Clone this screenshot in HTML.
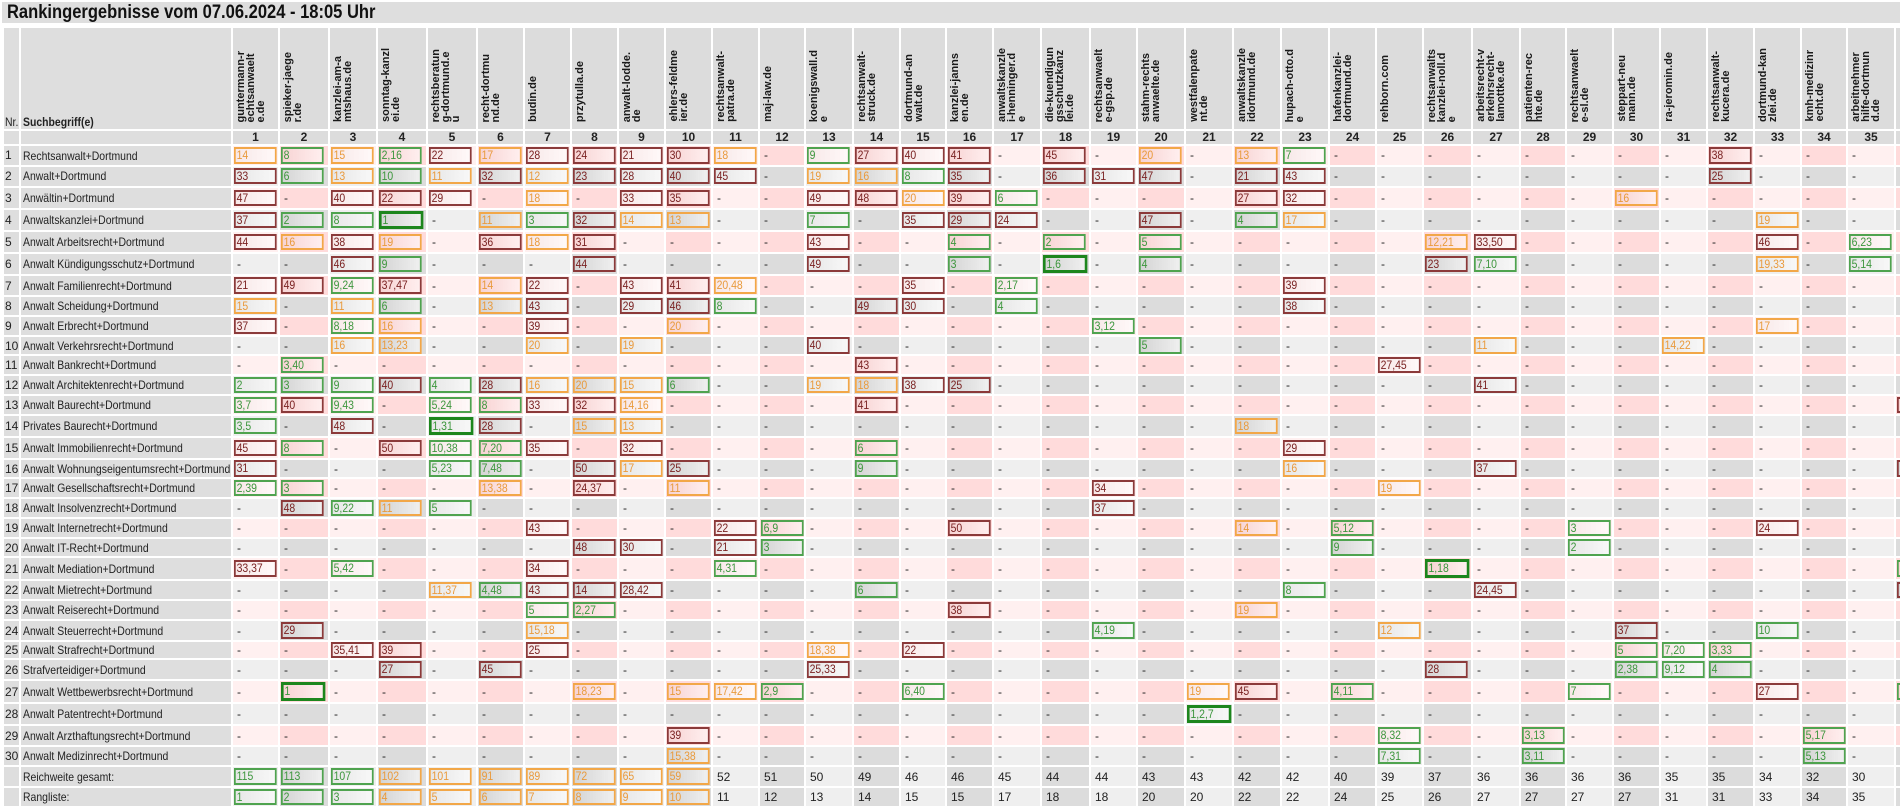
<!DOCTYPE html>
<html><head><meta charset="utf-8">
<style>
html,body{margin:0;padding:0;background:#fff;width:1900px;height:812px;overflow:hidden;font-family:"Liberation Sans",Arial,sans-serif;}
#t{position:absolute;left:2px;top:2px;width:1898px;height:21px;background:#dedede;}
#t span{position:absolute;left:5px;top:0;font-weight:bold;font-size:19px;line-height:21px;color:#111;transform:scaleX(.87);transform-origin:0 0;white-space:nowrap}
#w{position:absolute;left:2px;top:26px;width:1898px;height:786px;overflow:hidden}
table{table-layout:fixed;width:1941px;border-spacing:2px;border-collapse:separate}
td{padding:0;position:relative;font-size:12px;line-height:14px;color:#222;white-space:nowrap;text-indent:4px;vertical-align:middle}
tr.p td{background:#fff0f0}
tr.p td:nth-child(even){background:#ffdbdb}
tr.g td{background:#efefef}
tr.g td:nth-child(even){background:#dcdcdc}
tr td:nth-child(1),tr td:nth-child(2){background:#dedede!important}
td:nth-child(1){text-indent:1px}
td:nth-child(2){text-indent:2px}
tr.h td{background:#dcdcdc;vertical-align:bottom}
tr.n td{background:#dcdcdc;text-align:center;font-weight:bold;text-indent:0;line-height:13px}
tr.n td:nth-child(1),tr.n td:nth-child(2){text-indent:0}
i{font-style:normal;display:inline-block;transform:scaleX(.87);transform-origin:0 50%;text-indent:0;vertical-align:middle}
i.bd{font-weight:bold}
b{position:absolute;left:1px;top:0;bottom:0;margin:auto 0;height:16.5px;width:49.4px;box-sizing:border-box;border:2px solid;font-weight:normal;text-indent:0;padding-left:1px;line-height:12.5px;font-size:12px;transform:scaleX(.87);transform-origin:0 0;background:linear-gradient(to right,rgba(0,0,0,.03),rgba(255,255,255,.55))}
b.r{border-color:#8b3a3a;color:#7a2222}
b.o{border-color:#f2a748;color:#e99a3c}
b.g{border-color:#4fa34f;color:#3d963d}
b.G{border:3px solid #1d861d;color:#3a953a;height:18.5px;width:50.6px;line-height:12.5px}
u{position:absolute;left:3px;bottom:7px;writing-mode:vertical-rl;transform:rotate(180deg);font-weight:bold;font-size:11px;line-height:10px;text-decoration:none;white-space:nowrap;text-indent:0;color:#1a1a1a}
</style></head><body>
<div id="t"><span>Rankingergebnisse vom 07.06.2024 - 18:05 Uhr</span></div>
<div id="w">
<table>
<colgroup>
<col style="width:15px"><col style="width:210px">
<col style="width:45px"><col style="width:48px"><col style="width:46px"><col style="width:48px"><col style="width:48px">
<col style="width:45px"><col style="width:45px"><col style="width:45px"><col style="width:45px"><col style="width:45px">
<col style="width:45px"><col style="width:44px"><col style="width:46px"><col style="width:45px"><col style="width:44px">
<col style="width:45px"><col style="width:46px"><col style="width:47px"><col style="width:45px"><col style="width:46px">
<col style="width:46px"><col style="width:46px"><col style="width:46px"><col style="width:45px"><col style="width:45px">
<col style="width:47px"><col style="width:46px"><col style="width:44px"><col style="width:45px"><col style="width:45px">
<col style="width:45px"><col style="width:45px"><col style="width:45px"><col style="width:44px"><col style="width:46px">
<col style="width:45px">
</colgroup>
<tr class="h" style="height:101px"><td><i>Nr.</i><td><i class="bd">Suchbegriff(e)</i>
<td><u>guntermann-r<br>echtsanwaelt<br>e.de</u>
<td><u>spieker-jaege<br>r.de</u>
<td><u>kanzlei-am-a<br>mtshaus.de</u>
<td><u>sonntag-kanzl<br>ei.de</u>
<td><u>rechtsberatun<br>g-dortmund.e<br>u</u>
<td><u>recht-dortmu<br>nd.de</u>
<td><u>budin.de</u>
<td><u>przytulla.de</u>
<td><u>anwalt-lodde.<br>de</u>
<td><u>ehlers-feldme<br>ier.de</u>
<td><u>rechtsanwalt-<br>patra.de</u>
<td><u>maj-law.de</u>
<td><u>koenigswall.d<br>e</u>
<td><u>rechtsanwalt-<br>struck.de</u>
<td><u>dortmund-an<br>walt.de</u>
<td><u>kanzlei-janns<br>en.de</u>
<td><u>anwaltskanzle<br>i-henninger.d<br>e</u>
<td><u>die-kuendigun<br>gsschutzkanz<br>lei.de</u>
<td><u>rechtsanwaelt<br>e-gsp.de</u>
<td><u>stahm-rechts<br>anwaelte.de</u>
<td><u>westfalenpate<br>nt.de</u>
<td><u>anwaltskanzle<br>idortmund.de</u>
<td><u>hupach-otto.d<br>e</u>
<td><u>hafenkanzlei-<br>dortmund.de</u>
<td><u>rehborn.com</u>
<td><u>rechtsanwalts<br>kanzlei-noll.d<br>e</u>
<td><u>arbeitsrecht-v<br>erkehrsrecht-<br>lamottke.de</u>
<td><u>patienten-rec<br>hte.de</u>
<td><u>rechtsanwaelt<br>e-sl.de</u>
<td><u>steppart-neu<br>mann.de</u>
<td><u>ra-jeromin.de</u>
<td><u>rechtsanwalt-<br>kucera.de</u>
<td><u>dortmund-kan<br>zlei.de</u>
<td><u>kmh-medizinr<br>echt.de</u>
<td><u>arbeitnehmer<br>hilfe-dortmun<br>d.de</u>
<td>
</tr>
<tr class="n" style="height:13px"><td><td><td>1<td>2<td>3<td>4<td>5<td>6<td>7<td>8<td>9<td>10<td>11<td>12<td>13<td>14<td>15<td>16<td>17<td>18<td>19<td>20<td>21<td>22<td>23<td>24<td>25<td>26<td>27<td>28<td>29<td>30<td>31<td>32<td>33<td>34<td>35<td>36</tr>

<tr class="p" style="height:18.5px"><td>1<td><i>Rechtsanwalt+Dortmund</i>
<td><b class="o">14</b><td><b class="g">8</b><td><b class="o">15</b><td><b class="g">2,16</b><td><b class="r">22</b><td><b class="o">17</b><td><b class="r">28</b><td><b class="r">24</b><td><b class="r">21</b><td><b class="r">30</b><td><b class="o">18</b><td>-<td><b class="g">9</b><td><b class="r">27</b><td><b class="r">40</b><td><b class="r">41</b><td>-<td><b class="r">45</b><td>-<td><b class="o">20</b><td>-<td><b class="o">13</b><td><b class="g">7</b><td>-<td>-<td>-<td>-<td>-<td>-<td>-<td>-<td><b class="r">38</b><td>-<td>-<td>-<td>-</tr>

<tr class="g" style="height:19px"><td>2<td><i>Anwalt+Dortmund</i>
<td><b class="r">33</b><td><b class="g">6</b><td><b class="o">13</b><td><b class="g">10</b><td><b class="o">11</b><td><b class="r">32</b><td><b class="o">12</b><td><b class="r">23</b><td><b class="r">28</b><td><b class="r">40</b><td><b class="r">45</b><td>-<td><b class="o">19</b><td><b class="o">16</b><td><b class="g">8</b><td><b class="r">35</b><td>-<td><b class="r">36</b><td><b class="r">31</b><td><b class="r">47</b><td>-<td><b class="r">21</b><td><b class="r">43</b><td>-<td>-<td>-<td>-<td>-<td>-<td>-<td>-<td><b class="r">25</b><td>-<td>-<td>-<td>-</tr>

<tr class="p" style="height:20.5px"><td>3<td><i>Anwältin+Dortmund</i>
<td><b class="r">47</b><td>-<td><b class="r">40</b><td><b class="r">22</b><td><b class="r">29</b><td>-<td><b class="o">18</b><td>-<td><b class="r">33</b><td><b class="r">35</b><td>-<td>-<td><b class="r">49</b><td><b class="r">48</b><td><b class="o">20</b><td><b class="r">39</b><td><b class="g">6</b><td>-<td>-<td>-<td>-<td><b class="r">27</b><td><b class="r">32</b><td>-<td>-<td>-<td>-<td>-<td>-<td><b class="o">16</b><td>-<td>-<td>-<td>-<td>-<td>-</tr>

<tr class="g" style="height:20px"><td>4<td><i>Anwaltskanzlei+Dortmund</i>
<td><b class="r">37</b><td><b class="g">2</b><td><b class="g">8</b><td><b class="G">1</b><td>-<td><b class="o">11</b><td><b class="g">3</b><td><b class="r">32</b><td><b class="o">14</b><td><b class="o">13</b><td>-<td>-<td><b class="g">7</b><td>-<td><b class="r">35</b><td><b class="r">29</b><td><b class="r">24</b><td>-<td>-<td><b class="r">47</b><td>-<td><b class="g">4</b><td><b class="o">17</b><td>-<td>-<td>-<td>-<td>-<td>-<td>-<td>-<td>-<td><b class="o">19</b><td>-<td>-<td>-</tr>

<tr class="p" style="height:19.5px"><td>5<td><i>Anwalt Arbeitsrecht+Dortmund</i>
<td><b class="r">44</b><td><b class="o">16</b><td><b class="r">38</b><td><b class="o">19</b><td>-<td><b class="r">36</b><td><b class="o">18</b><td><b class="r">31</b><td>-<td>-<td>-<td>-<td><b class="r">43</b><td>-<td>-<td><b class="g">4</b><td>-<td><b class="g">2</b><td>-<td><b class="g">5</b><td>-<td>-<td>-<td>-<td>-<td><b class="o">12,21</b><td><b class="r">33,50</b><td>-<td>-<td>-<td>-<td>-<td><b class="r">46</b><td>-<td><b class="g">6,23</b><td>-</tr>

<tr class="g" style="height:20.5px"><td>6<td><i>Anwalt Kündigungsschutz+Dortmund</i>
<td>-<td>-<td><b class="r">46</b><td><b class="g">9</b><td>-<td>-<td>-<td><b class="r">44</b><td>-<td>-<td>-<td>-<td><b class="r">49</b><td>-<td>-<td><b class="g">3</b><td>-<td><b class="G">1,6</b><td>-<td><b class="g">4</b><td>-<td>-<td>-<td>-<td>-<td><b class="r">23</b><td><b class="g">7,10</b><td>-<td>-<td>-<td>-<td>-<td><b class="o">19,33</b><td>-<td><b class="g">5,14</b><td>-</tr>

<tr class="p" style="height:19px"><td>7<td><i>Anwalt Familienrecht+Dortmund</i>
<td><b class="r">21</b><td><b class="r">49</b><td><b class="g">9,24</b><td><b class="r">37,47</b><td>-<td><b class="o">14</b><td><b class="r">22</b><td>-<td><b class="r">43</b><td><b class="r">41</b><td><b class="o">20,48</b><td>-<td>-<td>-<td><b class="r">35</b><td>-<td><b class="g">2,17</b><td>-<td>-<td>-<td>-<td>-<td><b class="r">39</b><td>-<td>-<td>-<td>-<td>-<td>-<td>-<td>-<td>-<td>-<td>-<td>-<td>-</tr>

<tr class="g" style="height:18px"><td>8<td><i>Anwalt Scheidung+Dortmund</i>
<td><b class="o">15</b><td>-<td><b class="o">11</b><td><b class="g">6</b><td>-<td><b class="o">13</b><td><b class="r">43</b><td>-<td><b class="r">29</b><td><b class="r">46</b><td><b class="g">8</b><td>-<td>-<td><b class="r">49</b><td><b class="r">30</b><td>-<td><b class="g">4</b><td>-<td>-<td>-<td>-<td>-<td><b class="r">38</b><td>-<td>-<td>-<td>-<td>-<td>-<td>-<td>-<td>-<td>-<td>-<td>-<td>-</tr>

<tr class="p" style="height:18px"><td>9<td><i>Anwalt Erbrecht+Dortmund</i>
<td><b class="r">37</b><td>-<td><b class="g">8,18</b><td><b class="o">16</b><td>-<td>-<td><b class="r">39</b><td>-<td>-<td><b class="o">20</b><td>-<td>-<td>-<td>-<td>-<td>-<td>-<td>-<td><b class="g">3,12</b><td>-<td>-<td>-<td>-<td>-<td>-<td>-<td>-<td>-<td>-<td>-<td>-<td>-<td><b class="o">17</b><td>-<td>-<td>-</tr>

<tr class="g" style="height:17px"><td>10<td><i>Anwalt Verkehrsrecht+Dortmund</i>
<td>-<td>-<td><b class="o">16</b><td><b class="o">13,23</b><td>-<td>-<td><b class="o">20</b><td>-<td><b class="o">19</b><td>-<td>-<td>-<td><b class="r">40</b><td>-<td>-<td>-<td>-<td>-<td>-<td><b class="g">5</b><td>-<td>-<td>-<td>-<td>-<td>-<td><b class="o">11</b><td>-<td>-<td>-<td><b class="o">14,22</b><td>-<td>-<td>-<td>-<td>-</tr>

<tr class="p" style="height:18px"><td>11<td><i>Anwalt Bankrecht+Dortmund</i>
<td>-<td><b class="g">3,40</b><td>-<td>-<td>-<td>-<td>-<td>-<td>-<td>-<td>-<td>-<td>-<td><b class="r">43</b><td>-<td>-<td>-<td>-<td>-<td>-<td>-<td>-<td>-<td>-<td><b class="r">27,45</b><td>-<td>-<td>-<td>-<td>-<td>-<td>-<td>-<td>-<td>-<td>-<td>-</tr>

<tr class="g" style="height:18px"><td>12<td><i>Anwalt Architektenrecht+Dortmund</i>
<td><b class="g">2</b><td><b class="g">3</b><td><b class="g">9</b><td><b class="r">40</b><td><b class="g">4</b><td><b class="r">28</b><td><b class="o">16</b><td><b class="o">20</b><td><b class="o">15</b><td><b class="g">6</b><td>-<td>-<td><b class="o">19</b><td><b class="o">18</b><td><b class="r">38</b><td><b class="r">25</b><td>-<td>-<td>-<td>-<td>-<td>-<td>-<td>-<td>-<td>-<td><b class="r">41</b><td>-<td>-<td>-<td>-<td>-<td>-<td>-<td>-<td>-</tr>

<tr class="p" style="height:18px"><td>13<td><i>Anwalt Baurecht+Dortmund</i>
<td><b class="g">3,7</b><td><b class="r">40</b><td><b class="g">9,43</b><td>-<td><b class="g">5,24</b><td><b class="g">8</b><td><b class="r">33</b><td><b class="r">32</b><td><b class="o">14,16</b><td>-<td>-<td>-<td>-<td><b class="r">41</b><td>-<td>-<td>-<td>-<td>-<td>-<td>-<td>-<td>-<td>-<td>-<td>-<td>-<td>-<td>-<td>-<td>-<td>-<td>-<td>-<td>-<td><b class="r"></b></tr>

<tr class="g" style="height:20px"><td>14<td><i>Privates Baurecht+Dortmund</i>
<td><b class="g">3,5</b><td>-<td><b class="r">48</b><td>-<td><b class="G">1,31</b><td><b class="r">28</b><td>-<td><b class="o">15</b><td><b class="o">13</b><td>-<td>-<td>-<td>-<td>-<td>-<td>-<td>-<td>-<td>-<td>-<td>-<td><b class="o">18</b><td>-<td>-<td>-<td>-<td>-<td>-<td>-<td>-<td>-<td>-<td>-<td>-<td>-<td>-</tr>

<tr class="p" style="height:20px"><td>15<td><i>Anwalt Immobilienrecht+Dortmund</i>
<td><b class="r">45</b><td><b class="g">8</b><td>-<td><b class="r">50</b><td><b class="g">10,38</b><td><b class="g">7,20</b><td><b class="r">35</b><td>-<td><b class="r">32</b><td>-<td>-<td>-<td>-<td><b class="g">6</b><td>-<td>-<td>-<td>-<td>-<td>-<td>-<td>-<td><b class="r">29</b><td>-<td>-<td>-<td>-<td>-<td>-<td>-<td>-<td>-<td>-<td>-<td>-<td>-</tr>

<tr class="g" style="height:17px"><td>16<td><i>Anwalt Wohnungseigentumsrecht+Dortmund</i>
<td><b class="r">31</b><td>-<td>-<td>-<td><b class="g">5,23</b><td><b class="g">7,48</b><td>-<td><b class="r">50</b><td><b class="o">17</b><td><b class="r">25</b><td>-<td>-<td>-<td><b class="g">9</b><td>-<td>-<td>-<td>-<td>-<td>-<td>-<td>-<td><b class="o">16</b><td>-<td>-<td>-<td><b class="r">37</b><td>-<td>-<td>-<td>-<td>-<td>-<td>-<td>-<td><b class="r"></b></tr>

<tr class="p" style="height:18px"><td>17<td><i>Anwalt Gesellschaftsrecht+Dortmund</i>
<td><b class="g">2,39</b><td><b class="g">3</b><td>-<td>-<td>-<td><b class="o">13,38</b><td>-<td><b class="r">24,37</b><td>-<td><b class="o">11</b><td>-<td>-<td>-<td>-<td>-<td>-<td>-<td>-<td><b class="r">34</b><td>-<td>-<td>-<td>-<td>-<td><b class="o">19</b><td>-<td>-<td>-<td>-<td>-<td>-<td>-<td>-<td>-<td>-<td>-</tr>

<tr class="g" style="height:18px"><td>18<td><i>Anwalt Insolvenzrecht+Dortmund</i>
<td>-<td><b class="r">48</b><td><b class="g">9,22</b><td><b class="o">11</b><td><b class="g">5</b><td>-<td>-<td>-<td>-<td>-<td>-<td>-<td>-<td>-<td>-<td>-<td>-<td>-<td><b class="r">37</b><td>-<td>-<td>-<td>-<td>-<td>-<td>-<td>-<td>-<td>-<td>-<td>-<td>-<td>-<td>-<td>-<td>-</tr>

<tr class="p" style="height:18px"><td>19<td><i>Anwalt Internetrecht+Dortmund</i>
<td>-<td>-<td>-<td>-<td>-<td>-<td><b class="r">43</b><td>-<td>-<td>-<td><b class="r">22</b><td><b class="g">6,9</b><td>-<td>-<td>-<td><b class="r">50</b><td>-<td>-<td>-<td>-<td>-<td><b class="o">14</b><td>-<td><b class="g">5,12</b><td>-<td>-<td>-<td>-<td><b class="g">3</b><td>-<td>-<td>-<td><b class="r">24</b><td>-<td>-<td>-</tr>

<tr class="g" style="height:17px"><td>20<td><i>Anwalt IT-Recht+Dortmund</i>
<td>-<td>-<td>-<td>-<td>-<td>-<td>-<td><b class="r">48</b><td><b class="r">30</b><td>-<td><b class="r">21</b><td><b class="g">3</b><td>-<td>-<td>-<td>-<td>-<td>-<td>-<td>-<td>-<td>-<td>-<td><b class="g">9</b><td>-<td>-<td>-<td>-<td><b class="g">2</b><td>-<td>-<td>-<td>-<td>-<td>-<td>-</tr>

<tr class="p" style="height:21px"><td>21<td><i>Anwalt Mediation+Dortmund</i>
<td><b class="r">33,37</b><td>-<td><b class="g">5,42</b><td>-<td>-<td>-<td><b class="r">34</b><td>-<td>-<td>-<td><b class="g">4,31</b><td>-<td>-<td>-<td>-<td>-<td>-<td>-<td>-<td>-<td>-<td>-<td>-<td>-<td>-<td><b class="G">1,18</b><td>-<td>-<td>-<td>-<td>-<td>-<td>-<td>-<td>-<td><b class="g"></b></tr>

<tr class="g" style="height:18px"><td>22<td><i>Anwalt Mietrecht+Dortmund</i>
<td>-<td>-<td>-<td>-<td><b class="o">11,37</b><td><b class="g">4,48</b><td><b class="r">43</b><td><b class="r">14</b><td><b class="r">28,42</b><td>-<td>-<td>-<td>-<td><b class="g">6</b><td>-<td>-<td>-<td>-<td>-<td>-<td>-<td>-<td><b class="g">8</b><td>-<td>-<td>-<td><b class="r">24,45</b><td>-<td>-<td>-<td>-<td>-<td>-<td>-<td>-<td><b class="r"></b></tr>

<tr class="p" style="height:18px"><td>23<td><i>Anwalt Reiserecht+Dortmund</i>
<td>-<td>-<td>-<td>-<td>-<td>-<td><b class="g">5</b><td><b class="g">2,27</b><td>-<td>-<td>-<td>-<td>-<td>-<td>-<td><b class="r">38</b><td>-<td>-<td>-<td>-<td>-<td><b class="o">19</b><td>-<td>-<td>-<td>-<td>-<td>-<td>-<td>-<td>-<td>-<td>-<td>-<td>-<td>-</tr>

<tr class="g" style="height:19px"><td>24<td><i>Anwalt Steuerrecht+Dortmund</i>
<td>-<td><b class="r">29</b><td>-<td>-<td>-<td>-<td><b class="o">15,18</b><td>-<td>-<td>-<td>-<td>-<td>-<td>-<td>-<td>-<td>-<td>-<td><b class="g">4,19</b><td>-<td>-<td>-<td>-<td>-<td><b class="o">12</b><td>-<td>-<td>-<td>-<td><b class="r">37</b><td>-<td>-<td><b class="g">10</b><td>-<td>-<td>-</tr>

<tr class="p" style="height:16px"><td>25<td><i>Anwalt Strafrecht+Dortmund</i>
<td>-<td>-<td><b class="r">35,41</b><td><b class="r">39</b><td>-<td>-<td><b class="r">25</b><td>-<td>-<td>-<td>-<td>-<td><b class="o">18,38</b><td>-<td><b class="r">22</b><td>-<td>-<td>-<td>-<td>-<td>-<td>-<td>-<td>-<td>-<td>-<td>-<td>-<td>-<td><b class="g">5</b><td><b class="g">7,20</b><td><b class="g">3,33</b><td>-<td>-<td>-<td>-</tr>

<tr class="g" style="height:19px"><td>26<td><i>Strafverteidiger+Dortmund</i>
<td>-<td>-<td>-<td><b class="r">27</b><td>-<td><b class="r">45</b><td>-<td>-<td>-<td>-<td>-<td>-<td><b class="r">25,33</b><td>-<td>-<td>-<td>-<td>-<td>-<td>-<td>-<td>-<td>-<td>-<td>-<td><b class="r">28</b><td>-<td>-<td>-<td><b class="g">2,38</b><td><b class="g">9,12</b><td><b class="g">4</b><td>-<td>-<td>-<td>-</tr>

<tr class="p" style="height:21px"><td>27<td><i>Anwalt Wettbewerbsrecht+Dortmund</i>
<td>-<td><b class="G">1</b><td>-<td>-<td>-<td>-<td>-<td><b class="o">18,23</b><td>-<td><b class="o">15</b><td><b class="o">17,42</b><td><b class="g">2,9</b><td>-<td>-<td><b class="g">6,40</b><td>-<td>-<td>-<td>-<td>-<td><b class="o">19</b><td><b class="r">45</b><td>-<td><b class="g">4,11</b><td>-<td>-<td>-<td>-<td><b class="g">7</b><td>-<td>-<td>-<td><b class="r">27</b><td>-<td>-<td><b class="g"></b></tr>

<tr class="g" style="height:20px"><td>28<td><i>Anwalt Patentrecht+Dortmund</i>
<td>-<td>-<td>-<td>-<td>-<td>-<td>-<td>-<td>-<td>-<td>-<td>-<td>-<td>-<td>-<td>-<td>-<td>-<td>-<td>-<td><b class="G">1,2,7</b><td>-<td>-<td>-<td>-<td>-<td>-<td>-<td>-<td>-<td>-<td>-<td>-<td>-<td>-<td>-</tr>

<tr class="p" style="height:19px"><td>29<td><i>Anwalt Arzthaftungsrecht+Dortmund</i>
<td>-<td>-<td>-<td>-<td>-<td>-<td>-<td>-<td>-<td><b class="r">39</b><td>-<td>-<td>-<td>-<td>-<td>-<td>-<td>-<td>-<td>-<td>-<td>-<td>-<td>-<td><b class="g">8,32</b><td>-<td>-<td><b class="g">3,13</b><td>-<td>-<td>-<td>-<td>-<td><b class="g">5,17</b><td>-<td>-</tr>

<tr class="g" style="height:18px"><td>30<td><i>Anwalt Medizinrecht+Dortmund</i>
<td>-<td>-<td>-<td>-<td>-<td>-<td>-<td>-<td>-<td><b class="o">15,38</b><td>-<td>-<td>-<td>-<td>-<td>-<td>-<td>-<td>-<td>-<td>-<td>-<td>-<td>-<td><b class="g">7,31</b><td>-<td>-<td><b class="g">3,11</b><td>-<td>-<td>-<td>-<td>-<td><b class="g">5,13</b><td>-<td>-</tr>

<tr class="g" style="height:19px"><td><td><i>Reichweite gesamt:</i>
<td><b class="g">115</b><td><b class="g">113</b><td><b class="g">107</b><td><b class="o">102</b><td><b class="o">101</b><td><b class="o">91</b><td><b class="o">89</b><td><b class="o">72</b><td><b class="o">65</b><td><b class="o">59</b><td>52<td>51<td>50<td>49<td>46<td>46<td>45<td>44<td>44<td>43<td>43<td>42<td>42<td>40<td>39<td>37<td>36<td>36<td>36<td>36<td>35<td>35<td>34<td>32<td>30<td></tr>

<tr class="g" style="height:18px"><td><td><i>Rangliste:</i>
<td><b class="g">1</b><td><b class="g">2</b><td><b class="g">3</b><td><b class="o">4</b><td><b class="o">5</b><td><b class="o">6</b><td><b class="o">7</b><td><b class="o">8</b><td><b class="o">9</b><td><b class="o">10</b><td>11<td>12<td>13<td>14<td>15<td>15<td>17<td>18<td>18<td>20<td>20<td>22<td>22<td>24<td>25<td>26<td>27<td>27<td>27<td>27<td>31<td>31<td>33<td>34<td>35<td></tr>
</table>
</div>
</body></html>
